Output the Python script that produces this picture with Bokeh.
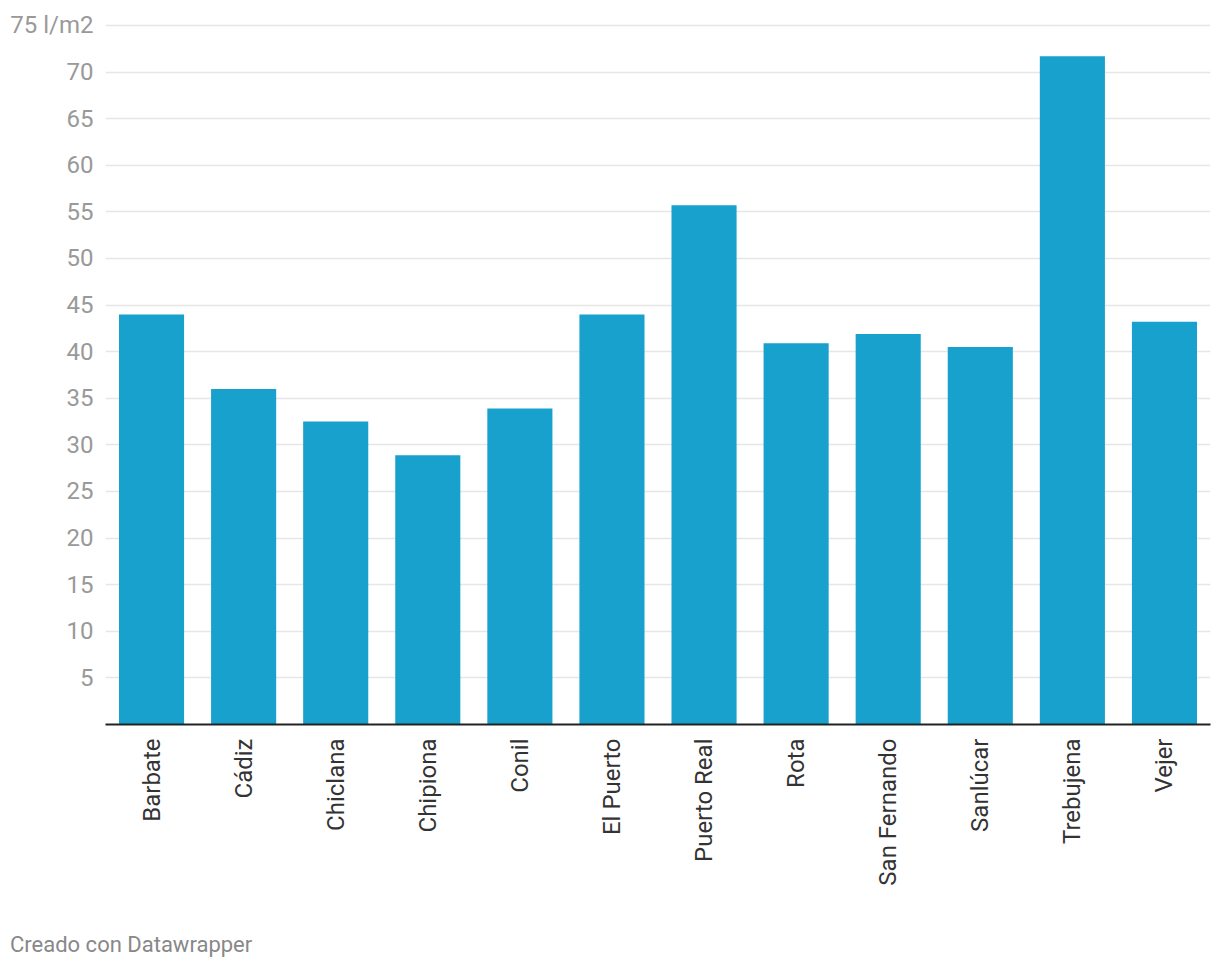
from bokeh.plotting import figure
from bokeh.models import FixedTicker, Range1d, Div
from bokeh.layouts import column
from bokeh.embed import file_html
from bokeh.resources import INLINE
import math

towns = ["Barbate", "Cádiz", "Chiclana", "Chipiona", "Conil", "El Puerto",
         "Puerto Real", "Rota", "San Fernando", "Sanlúcar", "Trebujena", "Vejer"]
rain = [44.0, 36.0, 32.5, 28.9, 33.9, 44.0, 55.7, 40.9, 41.9, 40.5, 71.7, 43.2]
y_ticks = [5, 10, 15, 20, 25, 30, 35, 40, 45, 50, 55, 60, 65, 70, 75]
y_tick_labels = {75: "75 l/m2"}
footer = "Creado con Datawrapper"

p = figure(x_range=towns, width=1212, height=930, output_backend="svg",
           toolbar_location=None, min_border_left=105, min_border_right=2,
           min_border_top=18, min_border_bottom=206)
p.y_range = Range1d(0, 75.75)
p.x_range.range_padding = 0

p.vbar(x=towns, top=rain, width=0.707, color="#19a1cd", line_color=None)

p.outline_line_color = None
p.xgrid.grid_line_color = None
p.ygrid.grid_line_color = "#e6e6e6"
p.ygrid.grid_line_width = 1.5
p.yaxis.ticker = FixedTicker(ticks=y_ticks)
p.yaxis.major_label_overrides = y_tick_labels
p.yaxis.axis_line_color = None
p.yaxis.major_tick_line_color = None
p.yaxis.minor_tick_line_color = None
p.yaxis.major_tick_out = 0
p.yaxis.major_label_standoff = 12
p.yaxis.major_label_text_font = "Roboto"
p.yaxis.major_label_text_font_size = "24px"
p.yaxis.major_label_text_color = "#999999"

p.xaxis.axis_line_color = "#222222"
p.xaxis.axis_line_width = 2
p.xaxis.major_tick_line_color = None
p.xaxis.minor_tick_line_color = None
p.xaxis.major_label_orientation = math.pi / 2
p.xaxis.major_label_standoff = 8
p.xaxis.major_label_text_font = "Roboto"
p.xaxis.major_label_text_font_size = "24px"
p.xaxis.major_label_text_color = "#333333"

note = Div(text=footer, width=400, height=26, margin=(2, 0, 0, 10),
           styles={"font-family": "Roboto", "font-size": "22px",
                   "color": "#888888", "line-height": "26px"})

layout = column(p, note, spacing=0)
open("out.html", "w").write(file_html(layout, INLINE))
